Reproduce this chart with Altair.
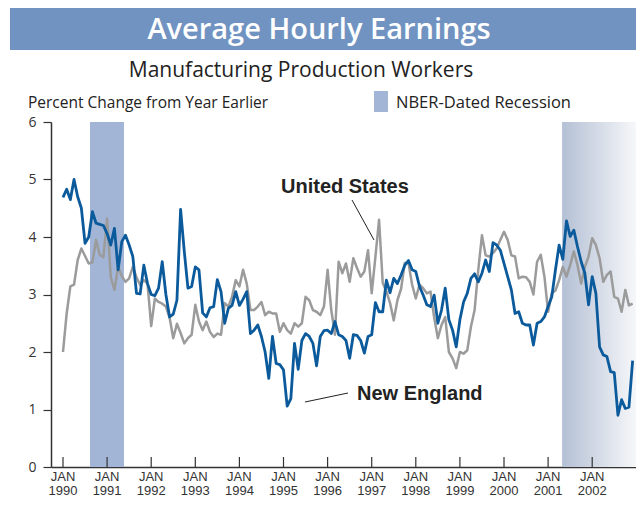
import altair as alt
import pandas as pd

# Monthly series, Jan 1990 .. Dec 2002 (percent change from year earlier)
new_england = [
    4.69, 4.83, 4.65, 5.00, 4.70, 4.50, 3.89, 4.00, 4.44, 4.24, 4.22, 4.20,
    4.06, 3.86, 4.15, 3.43, 3.92, 4.03, 3.86, 3.66, 3.02, 3.01, 3.51, 3.19,
    3.00, 2.98, 3.11, 3.57, 3.00, 2.61, 2.66, 2.90, 4.48, 3.75, 3.11, 3.14,
    3.48, 3.43, 2.68, 2.61, 2.77, 2.79, 3.26, 3.05, 2.50, 2.76, 2.81, 3.05,
    2.81, 2.92, 3.05, 2.32, 2.38, 2.47, 2.27, 2.00, 1.54, 2.27, 1.80, 1.78,
    1.69, 1.06, 1.19, 2.15, 1.70, 2.20, 2.32, 2.27, 2.15, 1.76, 2.27, 2.37,
    2.38, 2.32, 2.53, 2.30, 2.27, 2.20, 1.89, 2.30, 2.29, 2.20, 1.98, 2.27,
    2.30, 2.86, 2.70, 2.70, 3.25, 3.03, 3.28, 3.19, 3.34, 3.51, 3.59, 3.43,
    3.40, 3.14, 2.99, 2.82, 2.79, 2.99, 2.50, 2.73, 3.11, 2.56, 2.38, 2.09,
    2.56, 2.87, 3.02, 3.28, 3.36, 3.22, 3.37, 3.60, 3.40, 3.90, 3.86, 3.77,
    3.54, 3.31, 3.08, 2.67, 2.70, 2.50, 2.47, 2.47, 2.12, 2.50, 2.53, 2.61,
    2.79, 2.96, 3.43, 3.86, 3.61, 4.28, 4.01, 4.12, 3.83, 3.57, 3.37, 2.82,
    3.31, 3.02, 2.09, 1.95, 1.92, 1.66, 1.64, 0.90, 1.17, 1.02, 1.04, 1.85,
]
united_states = [
    2.00, 2.67, 3.14, 3.17, 3.60, 3.80, 3.67, 3.54, 3.56, 3.95, 3.69, 3.65,
    4.32, 3.30, 3.08, 3.48, 3.32, 3.22, 3.28, 3.48, 3.30, 3.16, 3.25, 3.19,
    2.45, 2.93, 2.87, 2.84, 2.79, 2.60, 2.24, 2.49, 2.33, 2.15, 2.24, 2.30,
    2.82, 2.53, 2.38, 2.53, 2.35, 2.26, 2.32, 2.30, 2.85, 2.79, 2.96, 3.25,
    3.14, 3.43, 3.19, 2.73, 2.73, 2.79, 2.87, 2.64, 2.70, 2.67, 2.67, 2.35,
    2.50, 2.38, 2.32, 2.50, 2.44, 2.50, 2.96, 2.90, 2.73, 2.70, 2.64, 2.79,
    3.43, 2.73, 2.30, 3.57, 3.37, 3.54, 3.22, 3.63, 3.46, 3.31, 3.40, 3.77,
    3.02, 3.65, 4.30, 3.20, 3.05, 2.85, 2.55, 2.90, 3.10, 3.55, 3.55, 3.17,
    2.93, 3.17, 3.11, 3.02, 3.05, 2.60, 2.24, 2.47, 2.61, 2.00, 1.89, 1.72,
    2.00, 1.97, 2.03, 2.44, 2.73, 3.43, 4.03, 3.68, 3.66, 3.72, 3.80, 3.95,
    4.09, 3.95, 3.68, 3.66, 3.28, 3.31, 3.30, 3.22, 3.00, 3.57, 3.69, 3.31,
    2.70, 3.02, 3.07, 3.25, 3.48, 3.31, 3.51, 3.75, 3.51, 3.19, 3.48, 3.66,
    3.98, 3.86, 3.63, 3.22, 3.34, 3.40, 2.96, 2.93, 2.70, 3.08, 2.81, 2.84,
]
tick_years = list(range(1990, 2003))
tick_month = "JAN"
recession_start = [1990.6125, 2001.317]
recession_end = [1991.383, 2002.993]
x_domain = [1989.728, 2002.993]
y_ticks = [0, 1, 2, 3, 4, 5, 6]

months = len(new_england)
frac_year = [1990 + i / 12 for i in range(months)]
us_df = pd.DataFrame({"t": frac_year, "value": united_states})
ne_df = pd.DataFrame({"t": frac_year, "value": new_england})
rec1 = pd.DataFrame({"start": [recession_start[0]], "end": [recession_end[0]]})
rec2 = pd.DataFrame({"start": [recession_start[1]], "end": [recession_end[1]]})
ticks_df = pd.DataFrame({"t": tick_years, "m": [tick_month] * len(tick_years)})
one = pd.DataFrame({"a": [0]})

W, H = 585, 345
AX = "#333333"
TXT = "#222222"
LABEL_FONT = "Open Sans"
TICK_FONT = "Liberation Sans"

xscale = alt.Scale(domain=x_domain, nice=False, zero=False)
yscale = alt.Scale(domain=[0, 6], nice=False)

x_axis = alt.Axis(values=tick_years, labels=False, ticks=False, grid=False,
                  domainColor=AX, domainWidth=1.5, title=None)
y_axis = alt.Axis(values=y_ticks, format="d", tickSize=8, tickColor=AX, tickWidth=1.2,
                  domainColor=AX, domainWidth=1.5, grid=False, title=None,
                  labelFontSize=14, labelFont=LABEL_FONT, labelColor=AX, labelPadding=7)

banner = alt.Chart(one).mark_rect(color="#7093c1").encode(
    x=alt.value(-41), x2=alt.value(W), y=alt.value(-114), y2=alt.value(-72))
title = alt.Chart(one).mark_text(text="Average Hourly Earnings", color="white",
                                 font="Open Sans", fontSize=29, fontWeight=600,
                                 align="center", baseline="alphabetic").encode(
    x=alt.value(268), y=alt.value(-83))
subtitle = alt.Chart(one).mark_text(text="Manufacturing Production Workers", color=TXT,
                                    font="Open Sans", fontSize=21,
                                    align="center", baseline="alphabetic").encode(
    x=alt.value(250), y=alt.value(-45))
ylabel = alt.Chart(one).mark_text(text="Percent Change from Year Earlier", color=TXT,
                                  font="Open Sans", fontSize=15.5,
                                  align="left", baseline="alphabetic").encode(
    x=alt.value(-23), y=alt.value(-14))
leg_box = alt.Chart(one).mark_rect(color="#a3b5d6").encode(
    x=alt.value(323), x2=alt.value(337), y=alt.value(-31), y2=alt.value(-10))
leg_text = alt.Chart(one).mark_text(text="NBER-Dated Recession", color=TXT,
                                    font="Open Sans", fontSize=16.5,
                                    align="left", baseline="alphabetic").encode(
    x=alt.value(345), y=alt.value(-14))

shade1 = alt.Chart(rec1).mark_rect(color="#a3b5d6").encode(
    x=alt.X("start:Q", scale=xscale, axis=x_axis), x2="end:Q",
    y=alt.value(0), y2=alt.value(H))
shade2 = alt.Chart(rec2).mark_rect(
    color=alt.Gradient(gradient="linear", x1=0, x2=1, y1=0, y2=0,
                       stops=[alt.GradientStop(color="#b4c0d5", offset=0),
                              alt.GradientStop(color="#f6f7f9", offset=1)])).encode(
    x=alt.X("start:Q", scale=xscale), x2="end:Q",
    y=alt.value(0), y2=alt.value(H))

us_line = alt.Chart(us_df).mark_line(
    color="#9b9b9b", strokeWidth=2.5, strokeJoin="round").encode(
    x=alt.X("t:Q", scale=xscale, axis=x_axis),
    y=alt.Y("value:Q", scale=yscale, axis=y_axis))
ne_line = alt.Chart(ne_df).mark_line(
    color="#0b5a9c", strokeWidth=2.8, strokeJoin="round").encode(
    x=alt.X("t:Q", scale=xscale), y=alt.Y("value:Q", scale=yscale))

xticks = alt.Chart(ticks_df).mark_rule(color=AX, strokeWidth=1.2).encode(
    x=alt.X("t:Q", scale=xscale), y=alt.value(H - 10), y2=alt.value(H))
xlab_month = alt.Chart(ticks_df).mark_text(color=AX, font=TICK_FONT, fontSize=13,
                                           align="center", baseline="alphabetic").encode(
    x=alt.X("t:Q", scale=xscale), y=alt.value(H + 13.5), text="m:N")
xlab_year = alt.Chart(ticks_df).mark_text(color=AX, font=TICK_FONT, fontSize=13,
                                          align="center", baseline="alphabetic").encode(
    x=alt.X("t:Q", scale=xscale), y=alt.value(H + 28), text=alt.Text("t:Q", format="d"))

us_label = alt.Chart(one).mark_text(text="United States", color=TXT,
                                    font="Liberation Sans", fontSize=20, fontWeight="bold",
                                    align="left", baseline="alphabetic").encode(
    x=alt.value(230), y=alt.value(71))
us_leader = alt.Chart(one).mark_rule(color=TXT, strokeWidth=1).encode(
    x=alt.value(301), y=alt.value(78), x2=alt.value(323), y2=alt.value(118))
ne_label = alt.Chart(one).mark_text(text="New England", color=TXT,
                                    font="Liberation Sans", fontSize=20, fontWeight="bold",
                                    align="left", baseline="alphabetic").encode(
    x=alt.value(306), y=alt.value(278))
ne_leader = alt.Chart(one).mark_rule(color=TXT, strokeWidth=1).encode(
    x=alt.value(254), y=alt.value(280), x2=alt.value(297), y2=alt.value(271))

chart = alt.layer(
    shade1, shade2, us_line, ne_line, xticks, xlab_month, xlab_year,
    banner, title, subtitle, ylabel, leg_box, leg_text,
    us_label, us_leader, ne_label, ne_leader,
).properties(
    width=W, height=H,
    autosize=alt.AutoSizeParams(type="none"),
    padding={"left": 43, "top": 114, "right": 0, "bottom": 31},
).configure_view(stroke=None)

chart.save("out.html", embed_options={"renderer": "svg", "actions": False})
